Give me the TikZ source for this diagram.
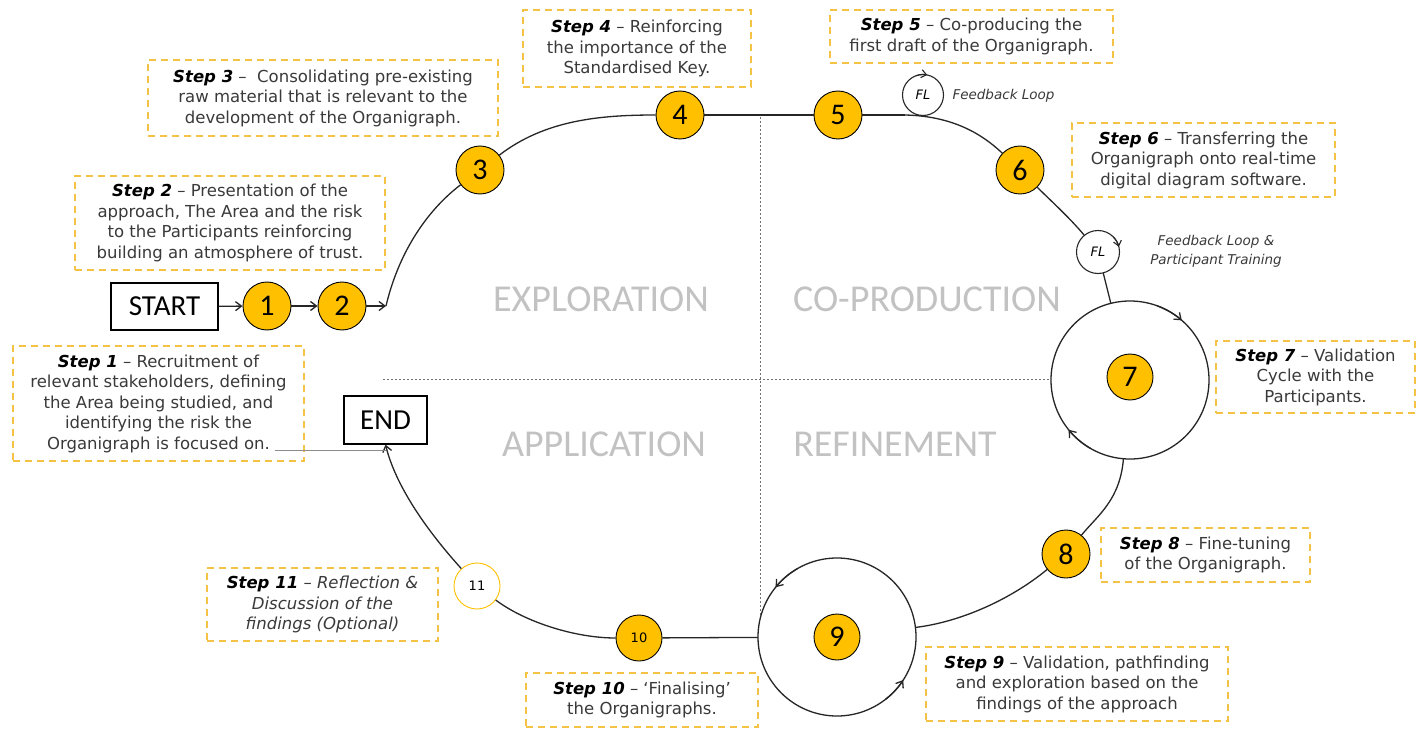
\documentclass[tikz,border=0pt]{standalone}
\usepackage{fontspec}
\setmainfont{DejaVu Sans}
\newfontfamily\calib{Carlito}
\usetikzlibrary{arrows.meta}
\definecolor{gold}{HTML}{FFC000}
\definecolor{boxgold}{HTML}{F4C245}
\definecolor{quad}{HTML}{C2C2C2}
\definecolor{txt}{HTML}{3A3A3A}
\newcommand{\stp}[1]{\textcolor{black}{\textbf{\textit{Step #1}}}}
\begin{document}
\begin{tikzpicture}[x=1pt,y=-1pt,
  stepbox/.style={draw=boxgold, line width=1.6pt, dash pattern=on 7pt off 5pt, fill=white,
    inner sep=0pt, align=center, text=txt, font=\fontsize{16.5}{20.5}\selectfont},
  numc/.style={circle, draw=black, line width=0.9pt, fill=gold, minimum size=48pt, inner sep=0pt,
    font=\calib\fontsize{30}{30}\selectfont},
  smallnum/.style={font=\fontsize{13}{13}\selectfont},
  termbox/.style={draw=black, line width=1.3pt, inner sep=0pt, font=\calib\fontsize{29}{29}\selectfont},
  quadlbl/.style={text=quad, font=\calib\fontsize{38}{38}\selectfont},
  fltext/.style={font=\itshape\fontsize{13.5}{19}\selectfont, text=txt, align=center},
  conn/.style={draw=black!85, line width=1.3pt},
  arr/.style={conn, -{Straight Barb[length=6pt,width=9pt]}},
  tiparc/.style={conn, -{Straight Barb[length=6pt,width=9pt]}},
  smalltip/.style={conn, line width=1.1pt, -{Straight Barb[length=5pt,width=8pt]}},
  divider/.style={draw=black!55, line width=0.7pt, dash pattern=on 2pt off 2pt},
  loopc/.style={circle, minimum size=#1, inner sep=0pt},
]
\useasboundingbox (0,0) rectangle (1417,741);
\fill[white] (0,0) rectangle (1417,741);

% dividers
\draw[divider] (760,117) -- (760,619);
\draw[divider] (383,379) -- (1051,379);

% quadrant labels
\node[quadlbl] (qexp) at (601,299) {EXPLORATION};
\node[quadlbl] (qcop) at (927,299) {CO-PRODUCTION};
\node[quadlbl] (qapp) at (604,444) {APPLICATION};
\node[quadlbl] (qref) at (895,444) {REFINEMENT};

% step boxes
\node[stepbox, minimum width=291pt, minimum height=115pt] (s1) at (158.5,403.5)
 {\stp{1} – Recruitment of\\relevant stakeholders, defining\\the Area being studied, and\\identifying the risk the\\Organigraph is focused on.};
\node[stepbox, minimum width=310pt, minimum height=94pt] (s2) at (230,223)
 {\stp{2} – Presentation of the\\approach, The Area and the risk\\to the Participants reinforcing\\building an atmosphere of trust.};
\node[stepbox, minimum width=350pt, minimum height=76pt] (s3) at (323,98)
 {\stp{3} –\ \ Consolidating pre-existing\\raw material that is relevant to the\\development of the Organigraph.};
\node[stepbox, minimum width=228pt, minimum height=77pt] (s4) at (637,48.5)
 {\stp{4} – Reinforcing\\the importance of the\\Standardised Key.};
\node[stepbox, minimum width=283pt, minimum height=53pt] (s5) at (971.5,36.5)
 {\stp{5} – Co-producing the\\first draft of the Organigraph.};
\node[stepbox, minimum width=263pt, minimum height=74pt] (s6) at (1203.5,160)
 {\stp{6} – Transferring the\\Organigraph onto real-time\\digital diagram software.};
\node[stepbox, minimum width=199pt, minimum height=72pt] (s7) at (1315.5,377)
 {\stp{7} – Validation\\Cycle with the\\Participants.};
\node[stepbox, minimum width=209pt, minimum height=54pt] (s8) at (1205.5,555)
 {\stp{8} – Fine-tuning\\of the Organigraph.};
\node[stepbox, minimum width=302pt, minimum height=74pt] (s9) at (1077,684)
 {\stp{9} – Validation, pathfinding\\and exploration based on the\\findings of the approach};
\node[stepbox, minimum width=232pt, minimum height=54pt] (s10) at (642,700)
 {\stp{10} – ‘Finalising’\\the Organigraphs.};
\node[stepbox, minimum width=231pt, minimum height=73pt] (s11) at (322.5,604.5)
 {\stp{11} – \textit{Reflection \&}\\\textit{Discussion of the}\\\textit{findings (Optional)}};

% terminals
\node[termbox, minimum width=107pt, minimum height=47pt] (start) at (164.5,306.5) {START};
\node[termbox, minimum width=83pt, minimum height=48pt] (end) at (385.5,420) {END};

% big loops (validation cycles)
\node[loopc=158pt] (loop7) at (1130,380) {};
\node[loopc=158pt] (loop9) at (837,637) {};
\draw[conn] (loop7.center) circle[radius=79];
\draw[conn] (loop9.center) circle[radius=79];
% clockwise tips on loop 7 (arc angles increase = clockwise on screen)
\draw[tiparc] (loop7.center) ++(-70:79) arc[start angle=-70, end angle=-49, radius=79];
\draw[tiparc] (loop7.center) ++(120:79) arc[start angle=120, end angle=141, radius=79];
% counter-clockwise tips on loop 9
\draw[tiparc] (loop9.center) ++(-120:79) arc[start angle=-120, end angle=-141, radius=79];
\draw[tiparc] (loop9.center) ++(52:79) arc[start angle=52, end angle=33, radius=79];

% feedback loops
\node[loopc=41pt, font=\itshape\fontsize{13}{13}\selectfont] (fl1) at (923,95) {FL};
\node[loopc=43pt, font=\itshape\fontsize{13}{13}\selectfont] (fl2) at (1098,252) {FL};
\draw[conn, line width=1.1pt] (fl1.center) circle[radius=20.5];
\draw[conn, line width=1.1pt] (fl2.center) circle[radius=21.5];
\draw[smalltip] (fl1.center) ++(-110:20.5) arc[start angle=-110, end angle=-78, radius=20.5];
\draw[smalltip] (fl2.center) ++(-45:21.5) arc[start angle=-45, end angle=-14, radius=21.5];
\node[fltext, anchor=west] (fl1t) at (949,96) {Feedback Loop};
\node[fltext] (fl2t) at (1216,251) {Feedback Loop \&\\Participant Training};

% numbered nodes
\node[numc] (n1) at (267,306) {1};
\node[numc] (n2) at (342,306) {2};
\node[numc] (n3) at (480,170) {3};
\node[numc] (n4) at (680,115) {4};
\node[numc] (n5) at (838,115) {5};
\node[numc] (n6) at (1020,170) {6};
\node[numc, minimum size=46pt] (n7) at (1130,377) {7};
\node[numc] (n8) at (1066,554) {8};
\node[numc, minimum size=46pt] (n9) at (837,637) {9};
\node[numc, minimum size=46pt, smallnum] (n10) at (639,638) {10};
\node[numc, minimum size=46pt, smallnum, fill=white, draw=gold] (n11) at (477,586) {11};

% connectors
\coordinate (c2) at (386,306);
\coordinate (c5) at (905,115);
\draw[arr] (start) -- (n1);
\draw[arr] (n1) -- (n2);
\draw[arr] (n2) -- (c2);
\draw[conn] (c2) .. controls (398,255) and (425,212) .. (n3);
\draw[conn] (n3) .. controls (545,120) and (600,115) .. (n4);
\draw[conn] (n4) -- (n5);
\draw[conn] (n5) -- (c5);
\draw[conn] (c5) .. controls (950,116) and (980,132) .. (n6);
\draw[conn] (n6) .. controls (1050,200) and (1070,218) .. (fl2);
\draw[conn] (fl2) -- (loop7);
\draw[conn] (loop7) .. controls (1120,500) and (1098,515) .. (n8);
\draw[conn] (n8) .. controls (1010,600) and (960,622) .. (loop9);
\draw[conn] (loop9) -- (n10);
\draw[conn] (n10) .. controls (575,638) and (525,622) .. (n11);
\draw[arr] (n11) .. controls (440,545) and (398,495) .. (end.south);

% faint stray line
\coordinate (fl) at (275,450);
\draw[draw=black!45, line width=0.6pt] (fl) -- (fl -| end.south);
\end{tikzpicture}
\end{document}
